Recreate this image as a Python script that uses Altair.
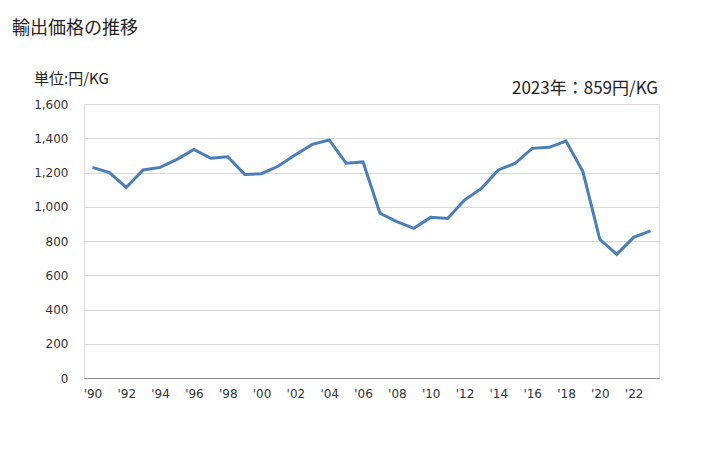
import altair as alt
import pandas as pd

years = list(range(1990, 2024))
values = [1230, 1199, 1113, 1215, 1230, 1277, 1335, 1283, 1292, 1189,
          1193, 1238, 1304, 1364, 1390, 1254, 1262, 962, 913, 874,
          938, 932, 1039, 1107, 1215, 1254, 1341, 1347, 1384, 1205,
          810, 722, 821, 859]
even_years = [y for y in years if y % 2 == 0]
y_ticks = [0, 200, 400, 600, 800, 1000, 1200, 1400, 1600]

title_text = "輸出価格の推移"
unit_text = "単位:円/KG"
latest_text = "2023年：859円/KG"

df = pd.DataFrame({"year": years, "value": values})

W, H = 575, 274
jp = "Noto Sans CJK JP"
num = "DejaVu Sans"

line = alt.Chart(df).mark_line(color="#4a7ebb", strokeWidth=3).encode(
    x=alt.X("year:O", title=None,
            scale=alt.Scale(paddingInner=0, paddingOuter=0),
            axis=alt.Axis(values=even_years, labelAngle=0,
                          labelExpr="\"'\" + slice(toString(datum.value), 2)",
                          ticks=False, labelPadding=10, labelFont=num,
                          labelFontSize=12, labelColor="#333333",
                          domainColor="#888888", grid=False)),
    y=alt.Y("value:Q", title=None,
            scale=alt.Scale(domain=[0, 1600], nice=False),
            axis=alt.Axis(values=y_ticks,
                          labelExpr="format(datum.value, ',d')",
                          ticks=False, domain=False,
                          labelPadding=16, labelFont=num, labelFontSize=12,
                          labelColor="#333333", gridColor="#d9d9d9")),
)

title = alt.Chart(pd.DataFrame({"t": [title_text]})).mark_text(
    align="left", baseline="alphabetic", font=jp, fontSize=18, color="#222222").encode(
    x=alt.value(-72), y=alt.value(-70), text="t:N")

unit = alt.Chart(pd.DataFrame({"t": [unit_text]})).mark_text(
    align="left", baseline="alphabetic", font=jp, fontSize=15, color="#222222").encode(
    x=alt.value(-50), y=alt.value(-20), text="t:N")

latest = alt.Chart(pd.DataFrame({"t": [latest_text]})).mark_text(
    align="right", baseline="alphabetic", font=jp, fontSize=17, color="#222222").encode(
    x=alt.value(574), y=alt.value(-10), text="t:N")

chart = alt.layer(line, title, unit, latest).properties(
    width=W, height=H,
    autosize=alt.AutoSizeParams(type="none"),
    padding={"left": 76, "top": 96, "right": 61, "bottom": 60},
).configure_view(stroke=None).configure(background="white")

chart.save("out.html", embed_options={"renderer": "svg", "actions": False})
